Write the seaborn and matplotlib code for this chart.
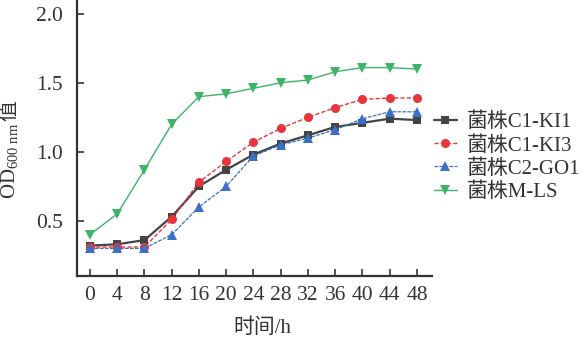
import matplotlib
matplotlib.use("Agg")
import matplotlib.pyplot as plt
import seaborn as sns
import pandas as pd

hours = [0, 4, 8, 12, 16, 20, 24, 28, 32, 36, 40, 44, 48]
strain_names = ["菌株C1-KI1", "菌株C1-KI3", "菌株C2-GO1", "菌株M-LS"]
od_c1_ki1 = [0.32, 0.33, 0.36, 0.53, 0.75, 0.87, 0.98, 1.06, 1.12, 1.18, 1.21, 1.24, 1.23]
od_c1_ki3 = [0.31, 0.31, 0.31, 0.51, 0.78, 0.93, 1.07, 1.17, 1.25, 1.32, 1.38, 1.39, 1.39]
od_c2_go1 = [0.30, 0.30, 0.30, 0.40, 0.60, 0.75, 0.97, 1.05, 1.10, 1.16, 1.24, 1.29, 1.29]
od_m_ls = [0.40, 0.55, 0.87, 1.20, 1.40, 1.42, 1.46, 1.50, 1.52, 1.58, 1.61, 1.61, 1.60]

sns.set_theme(style="ticks")
plt.rcParams["font.family"] = ["Liberation Serif", "Noto Sans CJK SC"]
plt.rcParams["mathtext.fontset"] = "custom"
plt.rcParams["mathtext.rm"] = "Liberation Serif"
plt.rcParams["mathtext.it"] = "Liberation Serif:italic"

TEXT = "#333333"
series = [od_c1_ki1, od_c1_ki3, od_c2_go1, od_m_ls]
styles = [
    dict(color="#444444", marker="s", linestyle="-", linewidth=1.6, markersize=6),
    dict(color="#e8353b", marker="o", linestyle=(0, (3, 1.5)), linewidth=1.0, markersize=6.5),
    dict(color="#3a70c6", marker="^", linestyle=(0, (3, 1)), linewidth=0.9, markersize=7),
    dict(color="#3db46a", marker="v", linestyle="-", linewidth=1.0, markersize=7),
]

W, H = 586, 345
fig = plt.figure(figsize=(W / 100, H / 100), dpi=100)
ax = fig.add_axes([77 / W, 1 - 276 / H, (432 - 77) / W, 276 / H])

for name, vals, st in zip(strain_names, series, styles):
    df = pd.DataFrame({"time": hours, "od": vals})
    sns.lineplot(data=df, x="time", y="od", ax=ax, label=name,
                 markeredgewidth=0, **st)

ax.set_xlim(-1.9, 50.2)
ax.set_ylim(0.1, 2.1)
ax.set_xticks(hours)
ax.set_yticks([0.5, 1.0, 1.5, 2.0])
ax.set_yticklabels(["0.5", "1.0", "1.5", "2.0"])
ax.tick_params(direction="in", length=5, width=1.2, labelsize=15.5, colors=TEXT,
               labelcolor=TEXT)
ax.tick_params(axis="x", pad=7)
ax.tick_params(axis="y", pad=10)
for s in ["top", "right"]:
    ax.spines[s].set_visible(False)
for s in ["left", "bottom"]:
    ax.spines[s].set_linewidth(1.6)
    ax.spines[s].set_color(TEXT)

ax.set_xlabel("")
ax.set_ylabel("")
fig.text(262 / W, 1 - 328 / H, "时间/h", fontsize=15, color=TEXT,
         ha="center", va="center")

# rotated y-axis title: "OD" with a subscript, then the CJK character after it
od_label = fig.text(14.5 / W, 1 - 199 / H, r"OD$_{\mathrm{600\ nm}}$", fontsize=15,
                    color=TEXT, rotation=90, rotation_mode="anchor",
                    ha="left", va="baseline")
fig.canvas.draw()
bb = od_label.get_window_extent(fig.canvas.get_renderer())
fig.text(14.5 / W, (bb.y1 + 2) / H, "值", fontsize=15, color=TEXT, rotation=90,
         rotation_mode="anchor", ha="left", va="baseline")

leg = ax.legend(loc="center left", bbox_to_anchor=(1.005, 0.43), frameon=False,
                fontsize=15, handlelength=1.1, handletextpad=0.5,
                labelspacing=0.17, borderaxespad=0, borderpad=0)
for t in leg.get_texts():
    t.set_color(TEXT)

fig.savefig("out.png", dpi=100)
